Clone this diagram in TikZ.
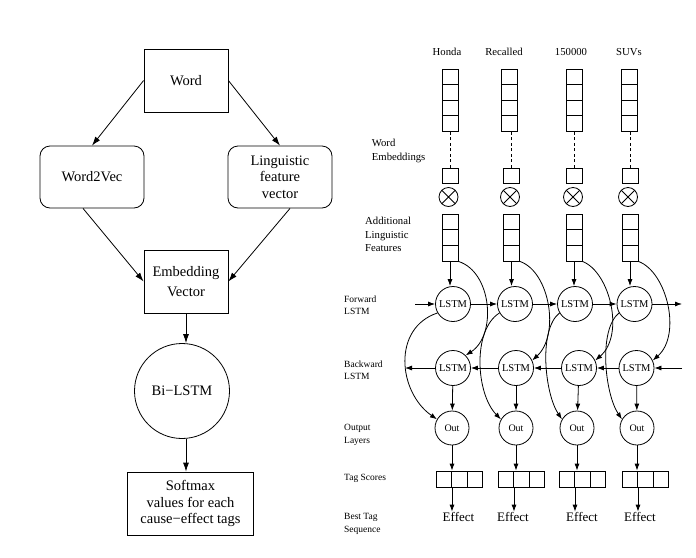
\documentclass[tikz,border=0pt]{standalone}
\usepackage{fontspec}
\setmainfont{Liberation Serif}
\usetikzlibrary{arrows.meta}
\begin{document}
\begin{tikzpicture}[x=1pt,y=-1pt,
  every node/.style={inner sep=0pt},
  bigfont/.style={font=\fontsize{14.5}{16.5}\selectfont},
  lbox/.style={draw, line width=0.8pt, bigfont, align=center},
  larr/.style={line width=0.8pt, -{Latex[length=9pt,width=6pt]}},
  rarr/.style={line width=0.8pt, -{Latex[length=7pt,width=5pt]}},
  cell/.style={draw, line width=0.8pt, minimum width=16pt, minimum height=15.5pt},
  tcell/.style={draw, line width=0.8pt, minimum width=15.6pt, minimum height=16pt},
  unit/.style={circle, draw, line width=0.8pt, minimum size=35pt, font=\fontsize{10.5}{12}\selectfont},
  outunit/.style={unit, minimum size=34pt, font=\fontsize{10}{12}\selectfont},
  mult/.style={circle, draw, line width=0.8pt, minimum size=19pt,
    path picture={\draw[line width=0.8pt] (path picture bounding box.north west) -- (path picture bounding box.south east) (path picture bounding box.north east) -- (path picture bounding box.south west);}},
  rowlab/.style={align=left, anchor=west, font=\fontsize{9.5}{12.3}\selectfont},
  uplab/.style={align=left, anchor=west, font=\fontsize{10.7}{13.3}\selectfont},
  wordlab/.style={anchor=base, font=\fontsize{10.7}{13}\selectfont},
  efflab/.style={anchor=base, font=\fontsize{13}{15}\selectfont}
]
\useasboundingbox (0,0) rectangle (696,557);

% ---------- left flow ----------
\node[lbox, minimum width=84pt, minimum height=63pt] (word) at (186,80.5) {Word};
\node[lbox, rounded corners=10pt, minimum width=104pt, minimum height=62pt] (w2v) at (92,177) {Word2Vec};
\node[lbox, rounded corners=10pt, minimum width=104pt, minimum height=62pt] (ling) at (280,177) {Linguistic\\feature\\vector};
\node[lbox, minimum width=84pt, minimum height=63pt] (emb) at (186,281.5) {Embedding\\[3.5pt]Vector};
\node[lbox, circle, minimum size=95pt] (bil) at (182,391) {Bi−LSTM};
\node[lbox, minimum width=125.6pt, minimum height=63pt] (soft) at (190.5,503.5) {Softmax\\values for each\\cause−effect tags};

\draw[larr] (word.west) -- (w2v.north);
\draw[larr] (word.east) -- (ling.north);
\draw[larr] ([xshift=-9pt]w2v.south) -- (emb.west);
\draw[larr] ([xshift=10pt]ling.south) -- (emb.east);
\draw[larr] (emb.south) -- (emb.south |- bil.north);
\draw[larr] (emb.south |- bil.south) -- (emb.south |- soft.north);

% ---------- right network ----------
\foreach \i/\xe/\xf/\xm/\xl/\wlabel in {1/450/450/448.5/447/Honda,2/509/511.5/510/504/Recalled,3/574/574/573/571/150000,4/629/630/628/629/SUVs}{
  \node[wordlab] (w\i) at (\xl,55) {\wlabel};
  \node[cell] (e\i1) at (\xe,76.75) {};
  \node[cell] (e\i2) at (\xe,92.25) {};
  \node[cell] (e\i3) at (\xe,107.75) {};
  \node[cell] (e\i4) at (\xe,123.25) {};
  \node[cell] (s\i) at (\xf,175.75) {};
  \draw[line width=0.8pt, dash pattern=on 3pt off 2.5pt] (s\i.north) -- (s\i.north |- e\i4.south);
  \node[mult] (m\i) at (\xm,197) {};
  \node[cell, minimum height=15.67pt] (f\i1) at (\xf,221.83) {};
  \node[cell, minimum height=15.67pt] (f\i2) at (\xf,237.5) {};
  \node[cell, minimum height=15.67pt] (f\i3) at (\xf,253.17) {};
}

\foreach \i/\xa/\xb/\xc in {1/453/453/452, 2/515/516/516, 3/575/579/577, 4/634.5/636.5/637}{
  \node[unit] (fw\i) at (\xa,304) {LSTM};
  \node[unit] (bw\i) at (\xb,368) {LSTM};
  \node[outunit] (out\i) at (\xc,428) {Out};
}

\foreach \i/\tl/\xg in {1/436/458.5, 2/498/513, 3/559/582, 4/622/640}{
  \node[tcell] (t\i1) at (\tl+7.8,479) {};
  \node[tcell] (t\i2) at (\tl+23.4,479) {};
  \node[tcell] (t\i3) at (\tl+39,479) {};
  \node[efflab] (eff\i) at (\xg,521) {Effect};
}

\foreach \i in {1,...,4}{
  \draw[rarr] (f\i3.south) -- (f\i3.south |- fw\i.north);
  \draw[rarr] (bw\i) -- (out\i);
  \draw[rarr] (out\i.south) -- (out\i.south |- t\i1.north);
  \draw[rarr] (t\i1.south east) -- (t\i1.south east |- eff\i.north);
}

\coordinate (fin) at (415,304);
\coordinate (fend) at (682,304);
\coordinate (bin) at (682,368);
\coordinate (bend) at (405,368);
\draw[rarr] (fin) -- (fw1);
\draw[rarr] (fw1) -- (fw2);
\draw[rarr] (fw2) -- (fw3);
\draw[rarr] (fw3) -- (fw4);
\draw[rarr] (fw4) -- (fend);
\draw[rarr] (bin) -- (bw4);
\draw[rarr] (bw4) -- (bw3);
\draw[rarr] (bw3) -- (bw2);
\draw[rarr] (bw2) -- (bw1);
\draw[rarr] (bw1) -- (bend);

\draw[rarr] (f13.south east) .. controls (492,272) and (497,335) .. (bw1.45);
\draw[rarr] (f23.south east) .. controls (550,272) and (560,335) .. (bw2.25);
\draw[rarr] (f33.south east) .. controls (610,272) and (625,335) .. (bw3.25);
\draw[rarr] (f43.south east) .. controls (667,272) and (682,335) .. (bw4.25);

\draw[rarr] (fw1.210) .. controls (392,328) and (398,392) .. (out1.150);
\draw[rarr] (fw2.210) .. controls (472,330) and (476,394) .. (out2.150);
\draw[rarr] (fw3.210) .. controls (538,330) and (545,394) .. (out3.150);
\draw[rarr] (fw4.210) .. controls (598,330) and (605,394) .. (out4.150);

\node[uplab] (lwe) at (371.7,151) {Word\\Embeddings};
\node[uplab] (laf) at (365,234.5) {Additional\\Linguistic\\Features};
\node[rowlab] (lfw) at (344,305) {Forward\\LSTM};
\node[rowlab] (lbw) at (344,370) {Backward\\LSTM};
\node[rowlab] (lout) at (344,435) {Output\\Layers};
\node[rowlab] (ltag) at (344,478.5) {Tag Scores};
\node[rowlab] (lbest) at (344,524) {Best Tag\\Sequence};
\end{tikzpicture}
\end{document}
